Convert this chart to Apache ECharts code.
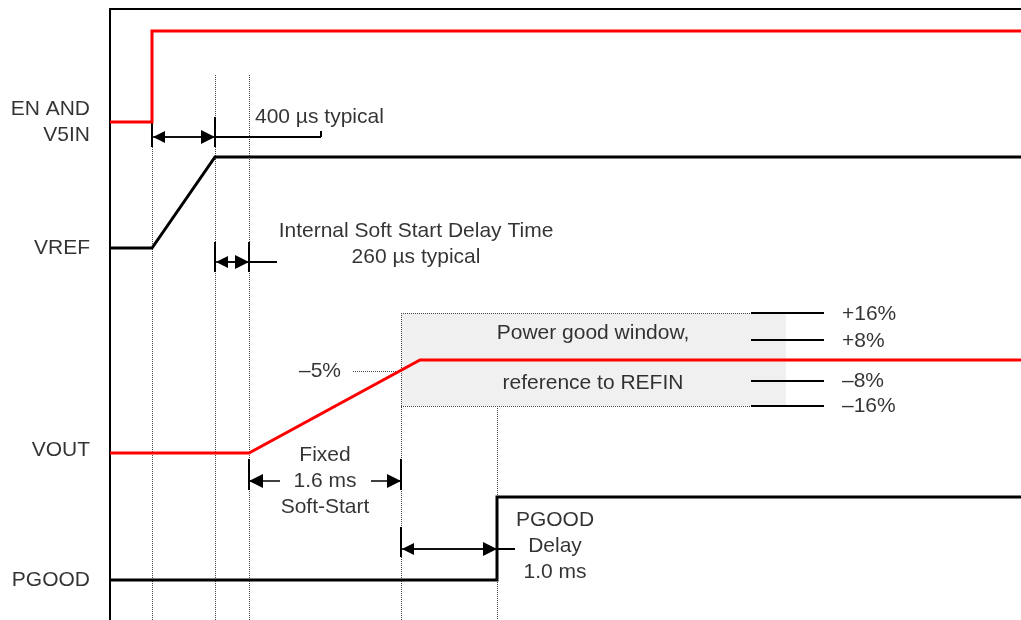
<!DOCTYPE html>
<html>
<head>
<meta charset="utf-8">
<script src="https://cdn.jsdelivr.net/npm/echarts@6/dist/echarts.min.js"></script>
<style>
html,body{margin:0;padding:0;background:#fff;}
#chart{width:1021px;height:620px;}
</style>
</head>
<body>
<div id="chart"></div>
<script>
// Schematic time units (x) and level units (y)
const laneNames = ['EN AND\nV5IN', 'VREF', 'VOUT', 'PGOOD'];
const laneLabelLevels = [498, 372, 170, 40];
const enWave = [[0, 498], [42, 498], [42, 589], [911, 589]];
const vrefWave = [[0, 372], [42, 372], [105, 463], [911, 463]];
const voutWave = [[0, 167], [139, 167], [310, 260], [911, 260]];
const pgoodWave = [[0, 40], [387, 40], [387, 123], [911, 123]];
// event times: EN rise, VREF settled, soft-start begin, window entry, PGOOD rise
const eventTimes = [42, 105, 139, 291, 387];
const windowLevels = [307, 280, 239, 214];
const windowLabels = ['+16%', '+8%', '\u20138%', '\u201316%'];
const windowSpan = [291, 676];
const minus5Level = 249;

const FONT = "'Liberation Sans', Arial, sans-serif";
const FS = 21;
const ARROW_LEN = 14;
const HALF = ARROW_LEN / 2;

function seg(a, b) { return { coords: [a, b] }; }

// dotted guide lines
const dotted = [
  seg([eventTimes[0], 545], [eventTimes[0], 0]),
  seg([eventTimes[1], 545], [eventTimes[1], 0]),
  seg([eventTimes[2], 545], [eventTimes[2], 0]),
  seg([eventTimes[3], windowLevels[0]], [eventTimes[3], 0]),
  seg([eventTimes[4], windowLevels[3]], [eventTimes[4], 0]),
  seg([eventTimes[3], windowLevels[0]], [641, windowLevels[0]]),
  seg([eventTimes[3], windowLevels[3]], [641, windowLevels[3]]),
  seg([243, minus5Level], [eventTimes[3], minus5Level])
];

// solid thin lines: ticks, leaders, window level marks
const solid = [
  seg([eventTimes[0], 503], [eventTimes[0], 473]),
  seg([eventTimes[1], 503], [eventTimes[1], 473]),
  seg([eventTimes[1], 483], [211, 483]),
  seg([211, 483], [211, 489]),
  seg([eventTimes[1], 378], [eventTimes[1], 348]),
  seg([eventTimes[2], 378], [eventTimes[2], 348]),
  seg([eventTimes[2], 358], [167, 358]),
  seg([eventTimes[2], 161], [eventTimes[2], 130]),
  seg([eventTimes[3], 161], [eventTimes[3], 130]),
  seg([eventTimes[3], 93], [eventTimes[3], 63]),
  seg([eventTimes[4], 71], [405, 71])
].concat(windowLevels.map(v => seg([641, v], [714, v])));

// [from, to, level]
const doubleArrowSpans = [
  [eventTimes[0], eventTimes[1], 483],
  [eventTimes[1], eventTimes[2], 358],
  [eventTimes[3], eventTimes[4], 71]
];
// [tail, tip, level]
const singleArrowSpans = [
  [170, eventTimes[2], 139],
  [261, eventTimes[3], 139]
];
// shafts between tips (drawn plain)
const shafts = doubleArrowSpans.map(s => seg([s[0] + 1, s[2]], [s[1] - 1, s[2]]))
  .concat(singleArrowSpans.map(s => seg([s[0], s[2]], [s[1], s[2]])));
// arrowheads: segments inset so the triangle tip lands on the tick
const heads2 = doubleArrowSpans.map(s => seg([s[0] + HALF, s[2]], [s[1] - HALF, s[2]]));
const heads1 = singleArrowSpans.map(s => {
  const dir = s[1] > s[0] ? 1 : -1;
  return seg([s[1] - dir * (HALF + 2), s[2]], [s[1] - dir * HALF, s[2]]);
});

const texts = [
  { value: [145, 503], text: '400 \u00b5s typical', align: 'left' },
  { value: [306, 376], text: 'Internal Soft Start Delay Time\n260 \u00b5s typical', align: 'center' },
  { value: [483, 287], text: 'Power good window,', align: 'center' },
  { value: [483, 237], text: 'reference to REFIN', align: 'center' },
  { value: [210, minus5Level], text: '\u20135%', align: 'center' },
  { value: [215, 139], text: 'Fixed\n1.6 ms\nSoft-Start', align: 'center' },
  { value: [445, 74], text: 'PGOOD\nDelay\n1.0 ms', align: 'center' }
].concat(windowLabels.map((t, i) => ({ value: [732, windowLevels[i] + (i < 2 ? -1 : 0)], text: t, align: 'left' })))
 .concat(laneNames.map((t, i) => ({ value: [-20, laneLabelLevels[i]], text: t, align: 'right' })));

const textData = texts.map(t => ({
  value: t.value,
  label: { formatter: t.text, align: t.align }
}));

function wave(data, color) {
  return {
    type: 'line', data: data, showSymbol: false, symbol: 'none', z: 5,
    lineStyle: { color: color, width: 3, join: 'miter' }, animation: false, silent: true
  };
}

const chart = echarts.init(document.getElementById('chart'));
chart.setOption({
  animation: false,
  grid: { left: 110, right: 0, top: 9, bottom: 0 },
  xAxis: {
    type: 'value', min: 0, max: 911, position: 'top',
    axisLine: { show: true, onZero: false, lineStyle: { color: '#000', width: 2 } },
    axisTick: { show: false }, axisLabel: { show: false }, splitLine: { show: false }
  },
  yAxis: {
    type: 'value', min: 0, max: 611,
    axisLine: { show: true, onZero: false, lineStyle: { color: '#000', width: 2 } },
    axisTick: { show: false }, axisLabel: { show: false }, splitLine: { show: false }
  },
  series: [
    {
      type: 'line', data: [], z: 1, silent: true,
      markArea: {
        silent: true,
        itemStyle: { color: '#f0f0f0' },
        data: [[{ coord: [windowSpan[0], windowLevels[0]] }, { coord: [windowSpan[1], windowLevels[3]] }]]
      }
    },
    {
      type: 'lines', coordinateSystem: 'cartesian2d', z: 2, silent: true,
      lineStyle: { color: '#444', width: 1, type: 'dotted', opacity: 1 },
      data: dotted
    },
    {
      type: 'lines', coordinateSystem: 'cartesian2d', z: 3, silent: true,
      lineStyle: { color: '#000', width: 2, opacity: 1 },
      data: solid
    },
    {
      type: 'lines', coordinateSystem: 'cartesian2d', z: 3, silent: true,
      lineStyle: { color: '#000', width: 1.5, opacity: 1 },
      data: shafts
    },
    {
      type: 'lines', coordinateSystem: 'cartesian2d', z: 4, silent: true,
      symbol: ['triangle', 'triangle'], symbolSize: [12, ARROW_LEN],
      lineStyle: { color: '#000', width: 1.5, opacity: 1 },
      data: heads2
    },
    {
      type: 'lines', coordinateSystem: 'cartesian2d', z: 4, silent: true,
      symbol: ['none', 'triangle'], symbolSize: [12, ARROW_LEN],
      lineStyle: { color: '#000', width: 1.5, opacity: 1 },
      data: heads1
    },
    wave(enWave, '#ff0000'),
    wave(vrefWave, '#000000'),
    wave(voutWave, '#ff0000'),
    wave(pgoodWave, '#000000'),
    {
      type: 'scatter', symbolSize: 0, clip: false, z: 6, silent: true,
      data: textData,
      label: {
        show: true, position: [0, 0], verticalAlign: 'middle',
        color: '#000', fontFamily: FONT, fontSize: FS, lineHeight: 26
      }
    }
  ]
});
</script>
</body>
</html>
